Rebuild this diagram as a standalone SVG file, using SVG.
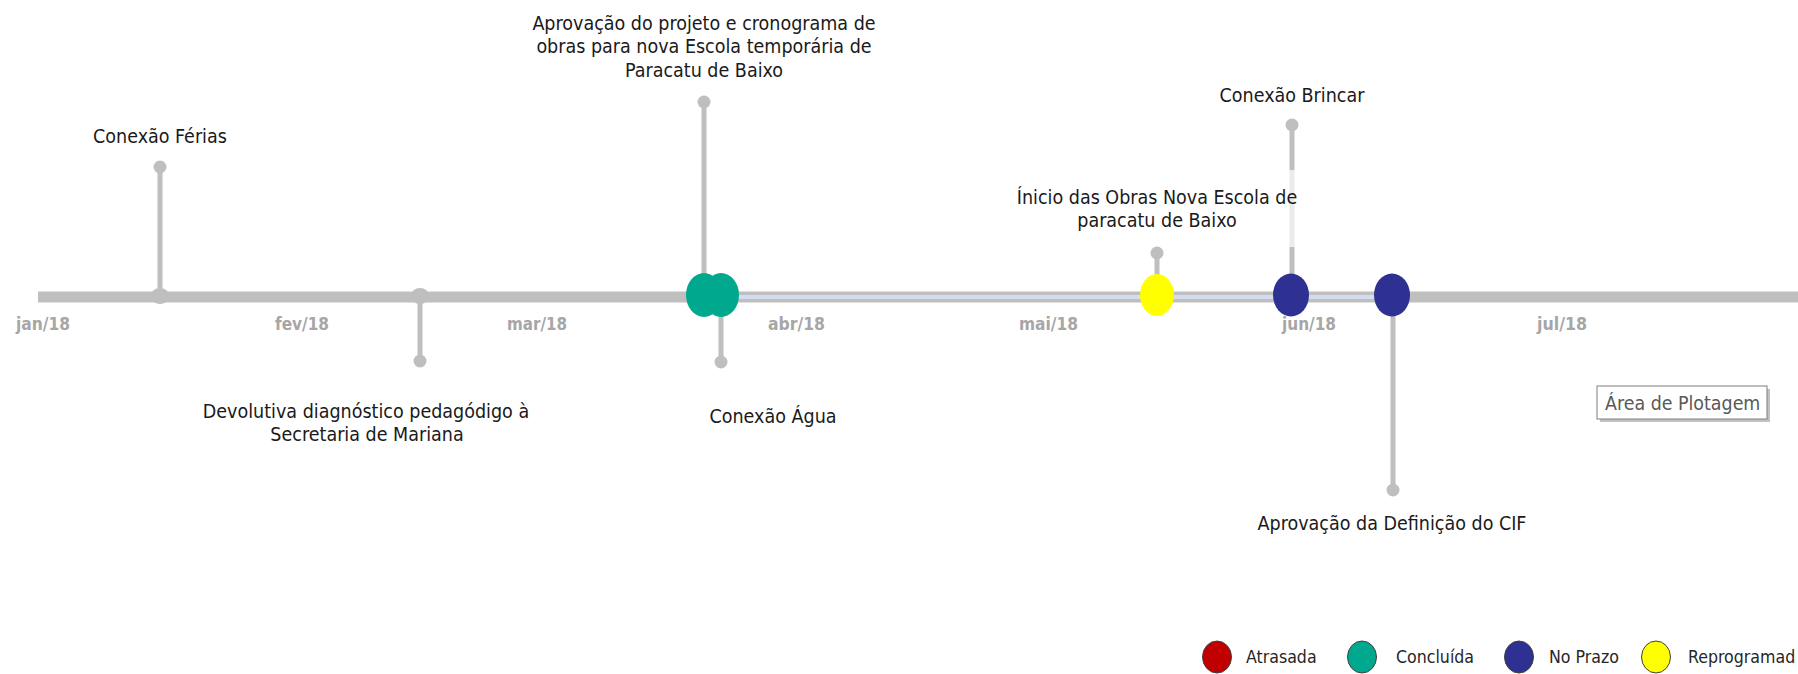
<svg xmlns="http://www.w3.org/2000/svg" width="1798" height="674" viewBox="0 0 1798 674">
<defs>
<style>
.lbl{font-family:"DejaVu Sans Condensed","DejaVu Sans",sans-serif;font-size:19.5px;fill:#1a1a1a;text-anchor:middle}
.mon{font-family:"DejaVu Sans Condensed","DejaVu Sans",sans-serif;font-size:17px;font-weight:bold;fill:#a6a6a6}
.leg{font-family:"DejaVu Sans Condensed","DejaVu Sans",sans-serif;font-size:17.6px;fill:#262626}
.stem{stroke:#bfbfbf;stroke-width:5;fill:none}
.dot{fill:#bfbfbf}
.green{fill:#00a88e}
.blue{fill:#2e3192}
.yellow{fill:#ffff00}
.red{fill:#c00000}
.lg{stroke:#404040;stroke-width:1}
</style>
</defs>
<rect width="1798" height="674" fill="#ffffff"/>
<g id="axis">
<line x1="38" y1="297" x2="1798" y2="297" stroke="#bfbfbf" stroke-width="11"/>
<line x1="730" y1="297" x2="1392" y2="297" stroke="#d3ddef" stroke-width="4"/>
<g class="mon">
<text x="16" y="330" textLength="54" lengthAdjust="spacingAndGlyphs">jan/18</text>
<text x="275" y="330" textLength="54" lengthAdjust="spacingAndGlyphs">fev/18</text>
<text x="507" y="330" textLength="60" lengthAdjust="spacingAndGlyphs">mar/18</text>
<text x="768" y="330" textLength="57" lengthAdjust="spacingAndGlyphs">abr/18</text>
<text x="1019" y="330" textLength="59" lengthAdjust="spacingAndGlyphs">mai/18</text>
<text x="1282" y="330" textLength="54" lengthAdjust="spacingAndGlyphs">jun/18</text>
<text x="1537" y="330" textLength="50" lengthAdjust="spacingAndGlyphs">jul/18</text>
</g>
</g>
<g id="connectors">
<line class="stem" x1="160" y1="167" x2="160" y2="296"/>
<line class="stem" x1="420" y1="296" x2="420" y2="361"/>
<line class="stem" x1="704" y1="102" x2="704" y2="295"/>
<line class="stem" x1="721" y1="296" x2="721" y2="362"/>
<line class="stem" x1="1157" y1="253" x2="1157" y2="295"/>
<line class="stem" x1="1292" y1="125" x2="1292" y2="170"/>
<line x1="1292" y1="170" x2="1292" y2="247" stroke="#ebebeb" stroke-width="5"/>
<line class="stem" x1="1292" y1="247" x2="1292" y2="295"/>
<line class="stem" x1="1393" y1="296" x2="1393" y2="490"/>
</g>
<g id="n-ferias">
<circle class="dot" cx="160" cy="167" r="6.5"/>
<ellipse class="dot" cx="160" cy="296" rx="9" ry="8"/>
<text class="lbl" x="160" y="143">Conexão Férias</text>
</g>
<g id="n-devolutiva">
<circle class="dot" cx="420" cy="361" r="6.5"/>
<ellipse class="dot" cx="420" cy="296" rx="9" ry="8"/>
<text class="lbl" x="366" y="418">Devolutiva diagnóstico pedagódigo à</text>
<text class="lbl" x="367" y="441">Secretaria de Mariana</text>
</g>
<g id="n-aprovacao-projeto">
<circle class="dot" cx="704" cy="102" r="6.5"/>
<ellipse class="green" cx="704" cy="295" rx="18" ry="22"/>
<text class="lbl" x="704" y="30">Aprovação do projeto e cronograma de</text>
<text class="lbl" x="704" y="53">obras para nova Escola temporária de</text>
<text class="lbl" x="704" y="77">Paracatu de Baixo</text>
</g>
<g id="n-agua">
<circle class="dot" cx="721" cy="362" r="6.5"/>
<ellipse class="green" cx="721" cy="295" rx="18" ry="22"/>
<text class="lbl" x="773" y="423">Conexão Água</text>
</g>
<g id="n-inicio">
<circle class="dot" cx="1157" cy="253" r="6.5"/>
<ellipse class="yellow" cx="1157" cy="295" rx="17" ry="21"/>
<text class="lbl" x="1157" y="204">Ínicio das Obras Nova Escola de</text>
<text class="lbl" x="1157" y="227">paracatu de Baixo</text>
</g>
<g id="n-brincar">
<circle class="dot" cx="1292" cy="125" r="6.5"/>
<ellipse class="blue" cx="1291" cy="295" rx="18" ry="21.5"/>
<text class="lbl" x="1292" y="102">Conexão Brincar</text>
</g>
<g id="n-cif">
<circle class="dot" cx="1393" cy="490" r="6.5"/>
<ellipse class="blue" cx="1392" cy="295" rx="18" ry="21.5"/>
<text class="lbl" x="1392" y="530">Aprovação da Definição do CIF</text>
</g>
<g id="plot-area-tooltip">
<rect x="1600" y="389" width="170" height="33" fill="#9a9a9a" opacity="0.6"/>
<rect x="1597" y="386" width="170" height="33" fill="#ffffff" stroke="#7f7f7f" stroke-width="1"/>
<text x="1605" y="410" font-family="DejaVu Sans Condensed, DejaVu Sans, sans-serif" font-size="19.4px" fill="#595959">Área de Plotagem</text>
</g>
<g id="legend">
<ellipse class="red lg" cx="1217" cy="657" rx="14.5" ry="16"/>
<text class="leg" x="1246" y="663">Atrasada</text>
<ellipse class="green lg" cx="1362" cy="657" rx="14.5" ry="16"/>
<text class="leg" x="1396" y="663">Concluída</text>
<ellipse class="blue lg" cx="1519" cy="657" rx="14.5" ry="16"/>
<text class="leg" x="1549" y="663">No Prazo</text>
<ellipse class="yellow lg" cx="1656" cy="657" rx="14.5" ry="16"/>
<text class="leg" x="1688" y="663">Reprogramad</text>
</g>
</svg>
